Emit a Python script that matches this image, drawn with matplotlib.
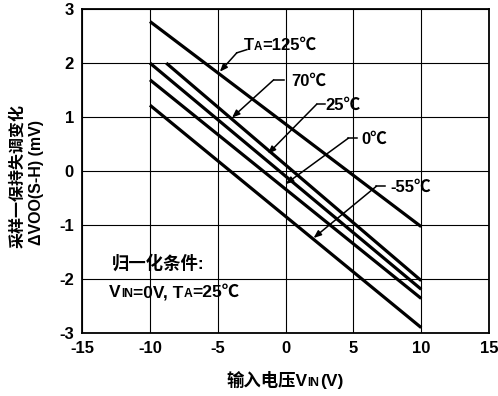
import matplotlib
matplotlib.use('Agg')
import matplotlib.pyplot as plt
from matplotlib.offsetbox import TextArea, HPacker, AnnotationBbox

plt.rcParams['font.family'] = ['Liberation Sans', 'Noto Sans CJK SC', 'DejaVu Sans']
plt.rcParams['font.weight'] = 'bold'

# Offset drift lines, one per ambient temperature (start/end points in V, mV)
temps = ['125', '70', '25', '0', '-55']
x_start = [-10, -8.8, -10, -10, -10]
y_start = [2.77, 2.0, 2.0, 1.69, 1.22]
x_end = [10, 10, 10, 10, 10]
y_end = [-1.03, -2.03, -2.19, -2.36, -2.9]

# Leader lines: label anchor, bend point, tip on the curve
label_xy = [(-3.1, 2.32), (0.45, 1.66), (2.95, 1.21), (5.6, 0.58), (7.75, -0.3)]
lead_start = [(-2.85, 2.25), (-0.15, 1.69), (2.9, 1.24), (5.25, 0.61), (7.3, -0.28)]
lead_bend = [(-3.6, 2.19), (-0.88, 1.69), (2.3, 1.24), (4.63, 0.61), (6.7, -0.28)]
lead_tip = [(-4.85, 1.84), (-3.95, 0.99), (-1.3, 0.32), (0.0, -0.24), (2.06, -1.24)]

xticks = [-15, -10, -5, 0, 5, 10, 15]
yticks = [-3, -2, -1, 0, 1, 2, 3]


def rich_text(ax, xy, parts, size, coords='data', align=(0, 0.5)):
    # draw text where some pieces (like "IN", "A") are set in a smaller size
    boxes = [TextArea(s, textprops=dict(size=size * (0.7 if small else 1.0),
                                        fontweight='bold', color='black'))
             for s, small in parts]
    pack = HPacker(children=boxes, align='baseline', pad=0, sep=0)
    ab = AnnotationBbox(pack, xy, xycoords=coords, box_alignment=align,
                        frameon=False, pad=0)
    ax.add_artist(ab)


fig = plt.figure(figsize=(4.98, 3.96), dpi=100)
ax = fig.add_axes([0.165, 0.159, 0.817, 0.818])

for xs, ys, xe, ye in zip(x_start, y_start, x_end, y_end):
    ax.plot([xs, xe], [ys, ye], color='black', lw=2.3, solid_capstyle='butt')

for i, t in enumerate(temps):
    sx, sy = lead_start[i]
    bx, by = lead_bend[i]
    ax.plot([sx, bx], [sy, by], color='black', lw=1.1)
    ax.annotate('', xy=lead_tip[i], xytext=(bx, by),
                arrowprops=dict(arrowstyle='-|>,head_length=0.45,head_width=0.18',
                                lw=1.1, color='black', shrinkA=0, shrinkB=0))
    if i == 0:
        rich_text(ax, label_xy[i], [('T', False), ('A', True), ('=125℃', False)], 12)
    else:
        ax.text(label_xy[i][0], label_xy[i][1], t + '℃', fontsize=12,
                fontweight='bold', ha='left', va='center')

# normalization conditions
ax.text(-12.8, -1.7, '归一化条件:', fontsize=12.5, fontweight='bold',
        ha='left', va='center')
rich_text(ax, (-13.0, -2.25),
          [('V', False), ('IN', True), ('=0V, T', False), ('A', True), ('=25℃', False)], 12.5)

ax.set_xlim(-15, 15)
ax.set_ylim(-3, 3)
ax.set_xticks(xticks)
ax.set_yticks(yticks)
ax.set_xticklabels([str(v) for v in xticks], fontsize=12, fontweight='bold')
ax.set_yticklabels([str(v) for v in yticks], fontsize=12, fontweight='bold')
ax.tick_params(length=0, pad=6)
ax.grid(True, color='black', lw=0.8)
for sp in ax.spines.values():
    sp.set_linewidth(1.3)

rich_text(fig, (0.572, 0.04), [('输入电压V', False), ('IN', True), ('(V)', False)], 12.5,
          coords='figure fraction', align=(0.5, 0.5))
fig.text(0.036, 0.555, '采样一保持失调变化', rotation=90, fontsize=11.5,
         fontweight='bold', ha='center', va='center')
fig.text(0.074, 0.54, 'ΔVOO(S-H) (mV)', rotation=90, fontsize=11.5,
         fontweight='bold', ha='center', va='center')

fig.savefig('out.png', dpi=100)
